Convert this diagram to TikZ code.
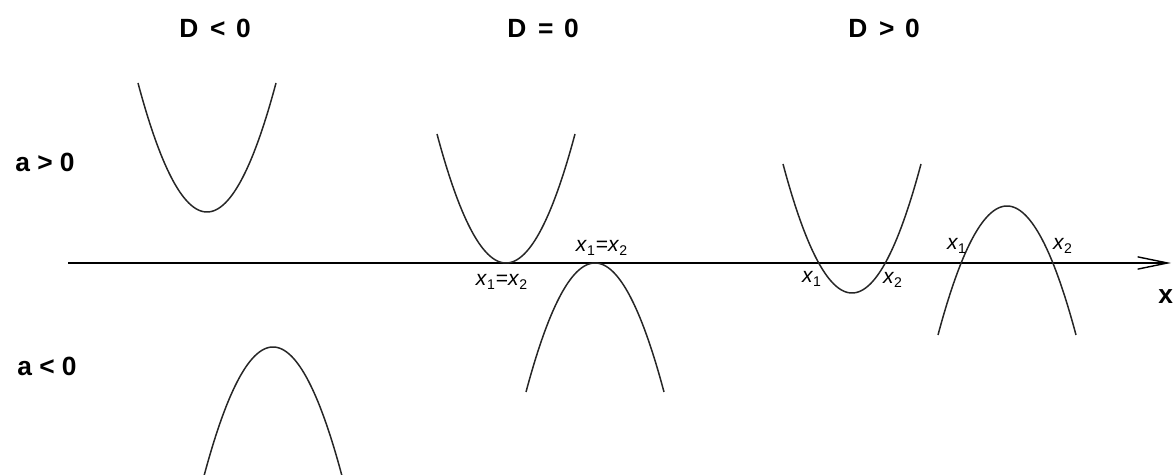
\documentclass[tikz,border=0pt]{standalone}
\usepackage{fontspec}
\setmainfont{Liberation Sans}
\usepackage{tikz}
\usetikzlibrary{arrows.meta}

\newcommand{\xroot}[1]{\textit{x}\textsubscript{#1}}

\begin{document}
\begin{tikzpicture}[x=0.02cm, y=-0.02cm,
    curve/.style={line width=0.85pt, black!85},
    axisline/.style={line width=0.8pt, -{Straight Barb[length=17pt,width=7pt]}},
    head/.style={font=\fontsize{15}{18}\selectfont\bfseries},
    root/.style={font=\fontsize{12}{14}\selectfont, inner sep=0pt}]
  \useasboundingbox (0,0) rectangle (1173,475);
  % column and row heads
  \foreach[count=\i from 1] \sgn/\cx in {</215, =/543, >/884}
    \node[head] (col\i) at (\cx, 28) {D\hspace{0.45em}\sgn\hspace{0.4em}0};
  \node[head] (rowpos) at (45, 162) {a > 0};
  \node[head] (rowneg) at (47, 366) {a < 0};
  % x axis
  \coordinate (axstart) at (68, 263);
  \coordinate (axend) at (1171, 263);
  \draw[axisline] (axstart) -- (axend);
  \node[head, anchor=west, inner sep=0pt] (xname) at (1158, 297) {x};
  % parabolas: vertex and opening (1 up, -1 down)
  \foreach \vx/\vy/\dir in
      {207/212/1, 273/347/-1, 506/263/1, 595/263/-1, 852/293/1, 1007/206/-1} {
    \draw[curve] plot[domain=-69:69, samples=80, smooth]
      ({\vx + \x}, {\vy - \dir*129*(\x/69)^2});
  }
  % roots
  \node[root] (tworoot) at (502, 282) {\xroot1=\xroot2};
  \node[root] (tworootb) at (602, 248) {\xroot1=\xroot2};
  \node[root] (rootaa) at (812, 279) {\xroot1};
  \node[root] (rootab) at (893, 280) {\xroot2};
  \node[root] (rootba) at (957, 246) {\xroot1};
  \node[root] (rootbb) at (1063, 246) {\xroot2};
\end{tikzpicture}
\end{document}
